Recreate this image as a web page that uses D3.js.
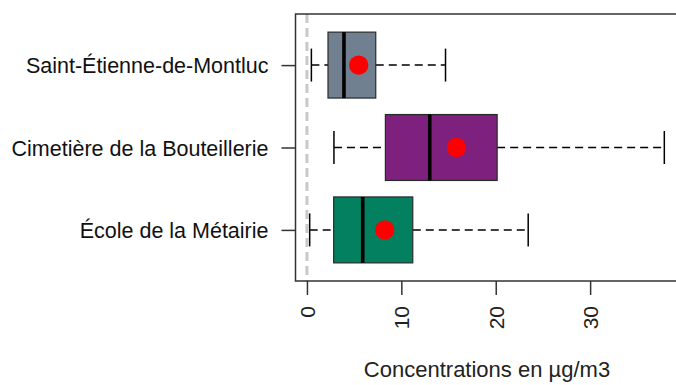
<!DOCTYPE html>
<html>
<head>
<meta charset="utf-8">
<script src="https://cdn.jsdelivr.net/npm/d3@7"></script>
<style>
  html, body { margin: 0; padding: 0; background: #fff; }
  svg { display: block; font-family: "Liberation Sans", Arial, sans-serif; }
</style>
</head>
<body>
<svg id="chart" width="676" height="385"></svg>
<script>
// Sites, listed from the bottom of the plot upwards
const sites = ["École de la Métairie", "Cimetière de la Bouteillerie", "Saint-Étienne-de-Montluc"];
const fills = ["#02805F", "#7E207E", "#708090"];
// Box statistics per site (µg/m3)
const whiskerLow  = [0.29, 2.86, 0.47];
const q1          = [2.83, 8.31, 2.23];
const median      = [5.91, 13.01, 3.92];
const q3          = [11.21, 20.15, 7.29];
const whiskerHigh = [23.44, 37.86, 14.68];
const mean        = [8.24, 15.84, 5.48];
const xTicks = [0, 10, 20, 30];
const xTitle = "Concentrations en µg/m3";

const svg = d3.select("#chart");
const plot = { left: 295.5, right: 678.5, top: 14, bottom: 281 };

// 4% padding on each side of the data range
const lo = d3.min(whiskerLow), hi = d3.max(whiskerHigh);
const pad = (hi - lo) * 0.04;
const x = d3.scaleLinear().domain([lo - pad, hi + pad]).range([plot.left, plot.right]);
const y = d3.scaleLinear().domain([0.5 - 0.12, sites.length + 0.5 + 0.12]).range([plot.bottom, plot.top]);
const halfBox = (y(0) - y(0.4));

const data = sites.map((s, i) => ({
  site: s, pos: i + 1, fill: fills[i],
  lo: whiskerLow[i], q1: q1[i], med: median[i], q3: q3[i], hi: whiskerHigh[i], mean: mean[i]
}));

// reference line at zero
svg.append("line")
  .attr("x1", x(0)).attr("x2", x(0))
  .attr("y1", plot.top).attr("y2", plot.bottom)
  .attr("stroke", "#c8c8c8").attr("stroke-width", 3)
  .attr("stroke-dasharray", "9,5");

const g = svg.append("g").selectAll("g").data(data).join("g");

// whiskers
g.append("line")
  .attr("x1", d => x(d.lo)).attr("x2", d => x(d.q1))
  .attr("y1", d => y(d.pos)).attr("y2", d => y(d.pos))
  .attr("stroke", "#000").attr("stroke-width", 1.5).attr("stroke-dasharray", "8,5");
g.append("line")
  .attr("x1", d => x(d.q3)).attr("x2", d => x(d.hi))
  .attr("y1", d => y(d.pos)).attr("y2", d => y(d.pos))
  .attr("stroke", "#000").attr("stroke-width", 1.5).attr("stroke-dasharray", "8,5");
// whisker caps
["lo", "hi"].forEach(k => {
  g.append("line")
    .attr("x1", d => x(d[k])).attr("x2", d => x(d[k]))
    .attr("y1", d => y(d.pos) - halfBox / 2).attr("y2", d => y(d.pos) + halfBox / 2)
    .attr("stroke", "#000").attr("stroke-width", 1.5);
});

// boxes
g.append("rect")
  .attr("x", d => x(d.q1)).attr("width", d => x(d.q3) - x(d.q1))
  .attr("y", d => y(d.pos) - halfBox).attr("height", 2 * halfBox)
  .attr("fill", d => d.fill).attr("stroke", "#2a2a2a").attr("stroke-width", 1.2);

// medians
g.append("line")
  .attr("x1", d => x(d.med)).attr("x2", d => x(d.med))
  .attr("y1", d => y(d.pos) - halfBox).attr("y2", d => y(d.pos) + halfBox)
  .attr("stroke", "#000").attr("stroke-width", 3.6);

// means
g.append("circle")
  .attr("cx", d => x(d.mean)).attr("cy", d => y(d.pos)).attr("r", 9.7)
  .attr("fill", "#ff0000");

// frame
svg.append("rect")
  .attr("x", plot.left).attr("y", plot.top)
  .attr("width", plot.right - plot.left).attr("height", plot.bottom - plot.top)
  .attr("fill", "none").attr("stroke", "#333").attr("stroke-width", 1.5);

// x axis
const xAxis = svg.append("g")
  .attr("transform", `translate(0,${plot.bottom})`)
  .call(d3.axisBottom(x).tickValues(xTicks).tickSize(14).tickSizeOuter(0).tickFormat(d3.format("d")));
xAxis.select(".domain").remove();
xAxis.selectAll(".tick line").attr("stroke", "#333").attr("stroke-width", 1.5);
xAxis.selectAll(".tick text")
  .attr("font-size", 21).attr("fill", "#222")
  .attr("transform", "rotate(-90)")
  .attr("x", -25).attr("y", 0).attr("dy", "0.36em")
  .attr("text-anchor", "end");

// y axis
const yAxis = svg.append("g")
  .attr("transform", `translate(${plot.left},0)`)
  .call(d3.axisLeft(y).tickValues(data.map(d => d.pos)).tickSize(14)
    .tickFormat(v => sites[v - 1]));
yAxis.select(".domain").remove();
yAxis.selectAll(".tick line").attr("stroke", "#333").attr("stroke-width", 1.5);
yAxis.selectAll(".tick text")
  .attr("font-size", 21.5).attr("fill", "#111")
  .attr("x", -27).attr("dy", "0.36em");

// axis title
svg.append("text")
  .attr("x", (plot.left + plot.right) / 2).attr("y", 377)
  .attr("text-anchor", "middle").attr("font-size", 22).attr("fill", "#222")
  .text(xTitle);
</script>
</body>
</html>
